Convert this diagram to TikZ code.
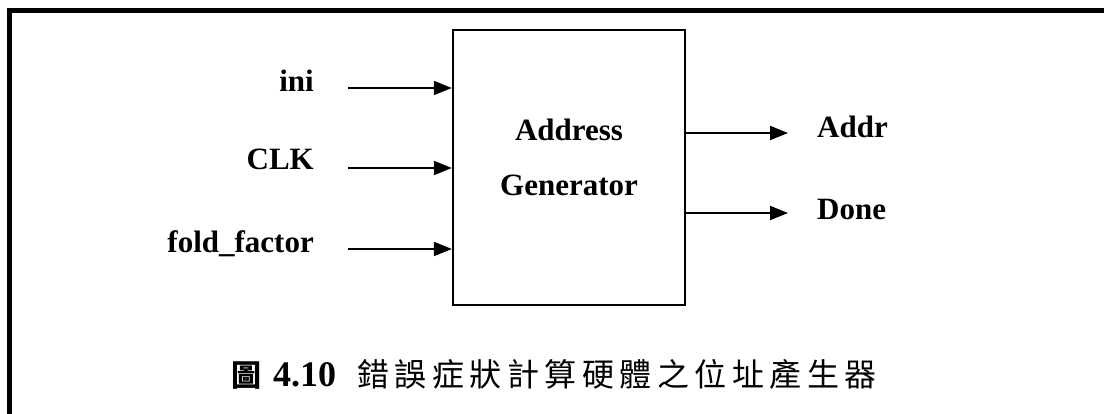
\documentclass[tikz,border=0pt]{standalone}
\usepackage{fontspec}
\setmainfont{Liberation Serif}
\newfontfamily\cjk{Noto Sans CJK TC}
\usetikzlibrary{arrows.meta}
\tikzset{
  lbl/.style={font=\fontsize{31}{36}\selectfont\bfseries, inner sep=0pt},
  sig/.style={line width=2pt, -{Triangle[length=18pt,width=14pt]}},
  blk/.style={draw, line width=2.2pt, minimum width=232pt, minimum height=275pt, inner sep=0pt},
}
\begin{document}
\begin{tikzpicture}[x=1pt,y=-1pt]
\useasboundingbox (0,0) rectangle (1104,414);
% frame
\draw[line width=5pt, line join=miter] (9.5,414) -- (9.5,10.5) -- (1104,10.5);
% block
\node[blk] (ag) at (569,167.5) {};
\node[lbl, align=center] (agl) at (569,157) {Address\\[19pt]Generator};
% inputs
\coordinate (i1) at (348,88);
\coordinate (i2) at (348,168);
\coordinate (i3) at (348,249);
\draw[sig, line width=1.4pt] (i1) -- (i1 -| ag.west);
\draw[sig] (i2) -- (i2 -| ag.west);
\draw[sig] (i3) -- (i3 -| ag.west);
\node[lbl, anchor=base east] (lini) at (314,92) {ini};
\node[lbl, anchor=base east] (lclk) at (314,170) {CLK};
\node[lbl, anchor=base east] (lfold) at (314,253) {fold\_factor};
% outputs
\coordinate (o1) at (788,133);
\coordinate (o2) at (788,213);
\draw[sig] (o1 -| ag.east) -- (o1);
\draw[sig] (o2 -| ag.east) -- (o2);
\node[lbl, anchor=base west] (laddr) at (817,138) {Addr};
\node[lbl, anchor=base west] (ldone) at (817,220) {Done};
% caption
\node[inner sep=0pt, anchor=base west] (fig) at (231,386)
  {{\cjk\bfseries\fontsize{30}{34}\selectfont 圖}\kern12pt{\fontsize{36}{40}\selectfont\bfseries 4.10}};
\node[inner sep=0pt, anchor=base west] (cap) at (357,386)
  {\cjk\fontsize{32}{36}\selectfont 錯\kern5.5pt誤\kern5.5pt症\kern5.5pt狀\kern5.5pt計\kern5.5pt算\kern5.5pt硬\kern5.5pt體\kern5.5pt之\kern5.5pt位\kern5.5pt址\kern5.5pt產\kern5.5pt生\kern5.5pt器};
\end{tikzpicture}
\end{document}
